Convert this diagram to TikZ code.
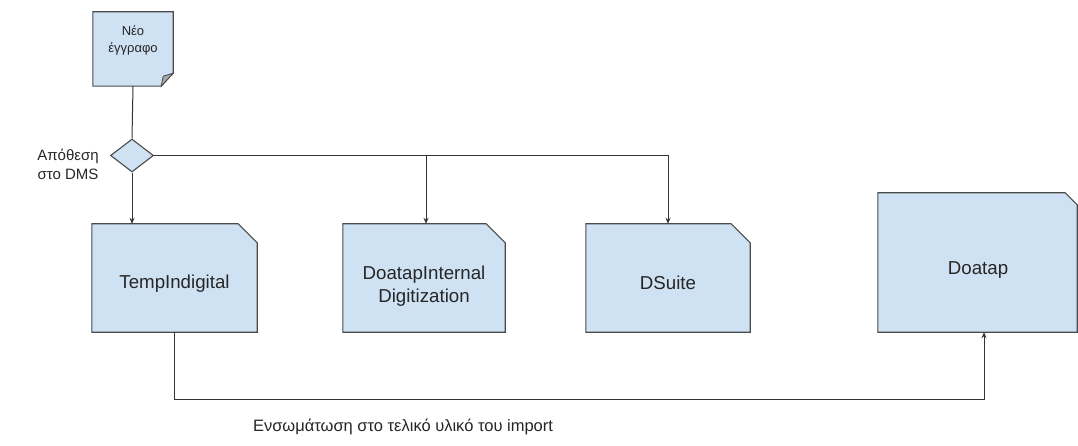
\documentclass[tikz,border=0pt]{standalone}
\usepackage{fontspec}
\setmainfont{Liberation Sans}
\usetikzlibrary{shapes.geometric,arrows.meta,backgrounds}
\definecolor{boxfill}{HTML}{CFE2F3}
\definecolor{boxline}{HTML}{4A4A4A}
\definecolor{foldgray}{HTML}{A6A6A6}
\definecolor{wire}{HTML}{333333}
\tikzset{
  anchorbox/.style={rectangle,draw=none,inner sep=0pt},
  boxshape/.style={fill=boxfill,draw=boxline,line width=1.1pt,line join=miter},
  boxtext/.style={font=\fontsize{18.7}{23}\selectfont,text=black!85,align=center,inner sep=0pt},
  wireline/.style={draw=wire,line width=1pt},
  arr/.style={wireline,-{Stealth[length=6pt,width=5pt]}},
}
\begin{document}
\begin{tikzpicture}[x=1pt,y=-1pt]
\useasboundingbox (0,0) rectangle (1078,446);
% new document
\node[anchorbox,minimum width=80pt,minimum height=74pt] (doc) at (133,49) {};
\node[boxtext,font=\fontsize{13}{17}\selectfont] (doctext) at (133,40) {Νέο\\έγγραφο};
% diamond
\node[diamond,boxshape,inner sep=0pt,minimum width=43pt,minimum height=33pt] (dec) at (132,155.5) {};
\node[align=center,inner sep=0pt,font=\fontsize{15}{19}\selectfont,text=black!85] (declabel) at (68,164) {Απόθεση\\στο DMS};
% boxes (invisible anchors)
\node[anchorbox,minimum width=165pt,minimum height=108pt] (temp) at (174.5,278) {};
\node[anchorbox,minimum width=162pt,minimum height=108pt] (dip) at (424,278) {};
\node[anchorbox,minimum width=164pt,minimum height=108pt] (ds) at (668,278) {};
\node[anchorbox,minimum width=199pt,minimum height=139pt] (doa) at (977.5,262.5) {};
\begin{scope}[on background layer]
  % folded document
  \draw[boxshape] (doc.north west) -- (doc.north east) -- ([yshift=13pt]doc.south east) -- ([xshift=-12pt]doc.south east) -- (doc.south west) -- cycle;
  \draw[fill=foldgray,draw=boxline,line width=0.8pt] ([xshift=-12pt]doc.south east) -- ([yshift=13pt]doc.south east) -- ([xshift=-10pt,yshift=10pt]doc.south east) -- cycle;
  \foreach \b/\c in {temp/19,dip/19,ds/19,doa/12}{
    \draw[boxshape] (\b.north west) -- ([xshift=-\c pt]\b.north east) -- ([yshift=-\c pt]\b.north east) -- (\b.south east) -- (\b.south west) -- cycle;
  }
\end{scope}
\node[boxtext] (temptext) at (174.5,284) {TempIndigital};
\node[boxtext] (diptext) at (424,286) {DoatapInternal\\Digitization};
\node[boxtext] (dstext) at (668,283) {DSuite};
\node[boxtext] (doatext) at (978,270) {Doatap};
% connectors
\draw[wireline] (doc.south) -- (dec.north);
\draw[arr] (dec.south) -- (dec.south |- temp.north);
\draw[arr] (dec.east) -| ([xshift=2pt]dip.north);
\draw[arr] (dec.east) -| (ds.north);
\draw[arr] (temp.south) -- ++(0,67) -| ([xshift=6.5pt]doa.south);
\node[inner sep=0pt,font=\fontsize{16.5}{20}\selectfont,text=black!85] (caption) at (403,427) {Ενσωμάτωση στο τελικό υλικό του import};
\end{tikzpicture}
\end{document}
